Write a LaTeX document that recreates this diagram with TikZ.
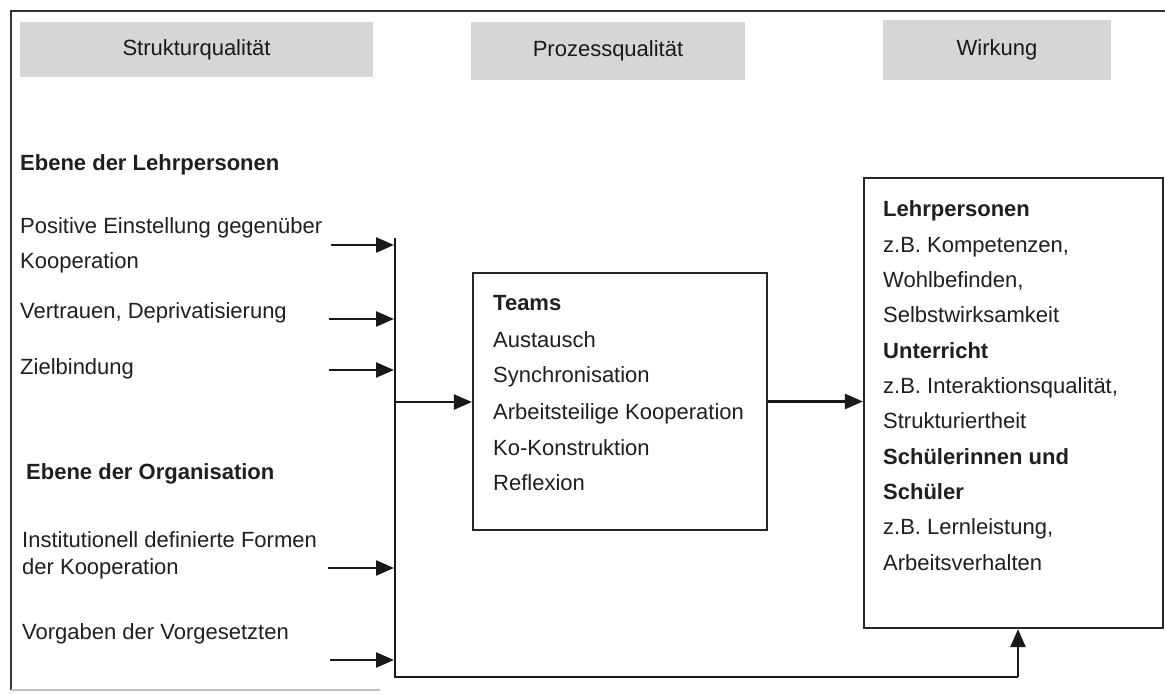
\documentclass[tikz,border=0pt]{standalone}
\usepackage{fontspec}
\setmainfont{Liberation Sans}
\usetikzlibrary{arrows.meta}
\begin{document}
\begin{tikzpicture}[x=1pt,y=-1pt,
  txt/.style={anchor=base west, inner sep=0pt, text=black!88, font=\fontsize{22}{26}\selectfont},
  btxt/.style={txt, font=\fontsize{22}{26}\selectfont\bfseries},
  hdr/.style={fill=black!16, inner sep=0pt, text=black!90, font=\fontsize{22}{26}\selectfont},
  boxnode/.style={draw=black!85, line width=2.2pt, inner sep=0pt, fill=white},
  arr/.style={draw=black!90, line width=2.4pt, -{Triangle[length=18pt,width=15pt]}},
  ln/.style={draw=black!90, line width=2.4pt}]
\useasboundingbox (0,0) rectangle (1165,695);

% outer frame
\draw[line width=2.6pt, black!80] (1165,11) -- (11,11) -- (11,690);
\draw[line width=1.2pt, black!25] (11,690) -- (380,690);

% header boxes
\node[hdr, minimum width=353pt, minimum height=55pt] (h1) at (196.5,49.5) {Strukturqualität};
\node[hdr, minimum width=274pt, minimum height=58pt] (h2) at (608,51) {Prozessqualität};
\node[hdr, minimum width=228pt, minimum height=60pt] (h3) at (997,50) {Wirkung};

% left column texts
\node[btxt] (l1) at (20,171) {Ebene der Lehrpersonen};
\node[txt] (l2) at (20,234) {Positive Einstellung gegenüber};
\node[txt] (l3) at (20,269) {Kooperation};
\node[txt] (l4) at (20,318) {Vertrauen, Deprivatisierung};
\node[txt] (l5) at (20,374) {Zielbindung};
\node[btxt] (l6) at (26,479) {Ebene der Organisation};
\node[txt] (l7) at (22,547) {Institutionell definierte Formen};
\node[txt] (l8) at (22,574) {der Kooperation};
\node[txt] (l9) at (22,639) {Vorgaben der Vorgesetzten};

% middle box
\node[boxnode, minimum width=294pt, minimum height=257pt] (teams) at (620,401.5) {};
\node[btxt] (t1) at (493,310) {Teams};
\node[txt] (t2) at (493,347) {Austausch};
\node[txt] (t3) at (493,382) {Synchronisation};
\node[txt] (t4) at (493,419) {Arbeitsteilige Kooperation};
\node[txt] (t5) at (493,455) {Ko-Konstruktion};
\node[txt] (t6) at (493,490) {Reflexion};

% right box
\node[boxnode, minimum width=299pt, minimum height=450pt] (wbox) at (1013.5,403) {};
\node[btxt] (w1) at (883,217) {Lehrpersonen};
\node[txt] (w2) at (883,252.3) {z.B. Kompetenzen,};
\node[txt] (w3) at (883,287.6) {Wohlbefinden,};
\node[txt] (w4) at (883,322.9) {Selbstwirksamkeit};
\node[btxt] (w5) at (883,358.2) {Unterricht};
\node[txt] (w6) at (883,393.5) {z.B. Interaktionsqualität,};
\node[txt] (w7) at (883,428.8) {Strukturiertheit};
\node[btxt] (w8) at (883,464.1) {Schülerinnen und};
\node[btxt] (w9) at (883,499.4) {Schüler};
\node[txt] (w10) at (883,534.7) {z.B. Lernleistung,};
\node[txt] (w11) at (883,570) {Arbeitsverhalten};

% collector line
\coordinate (vt) at (395,238);
\coordinate (vb) at (395,677);
\coordinate (vc) at (1018,677);
\draw[ln] (vt) -- (vb) -- (vc);
\draw[arr] (vc) -- (vc |- wbox.south);

% input arrows
\foreach \i/\y/\x in {1/245/331, 2/319/329, 3/370/329, 4/568/328, 5/660/330}{
  \coordinate (s\i) at (\x,\y);
  \coordinate (e\i) at (394,\y);
  \draw[arr] (s\i) -- (e\i);
}

\coordinate (jt) at (395,402);
\draw[arr] (jt) -- (jt -| teams.west);
\draw[arr] (teams.east) -- (teams.east -| wbox.west);
\end{tikzpicture}
\end{document}
